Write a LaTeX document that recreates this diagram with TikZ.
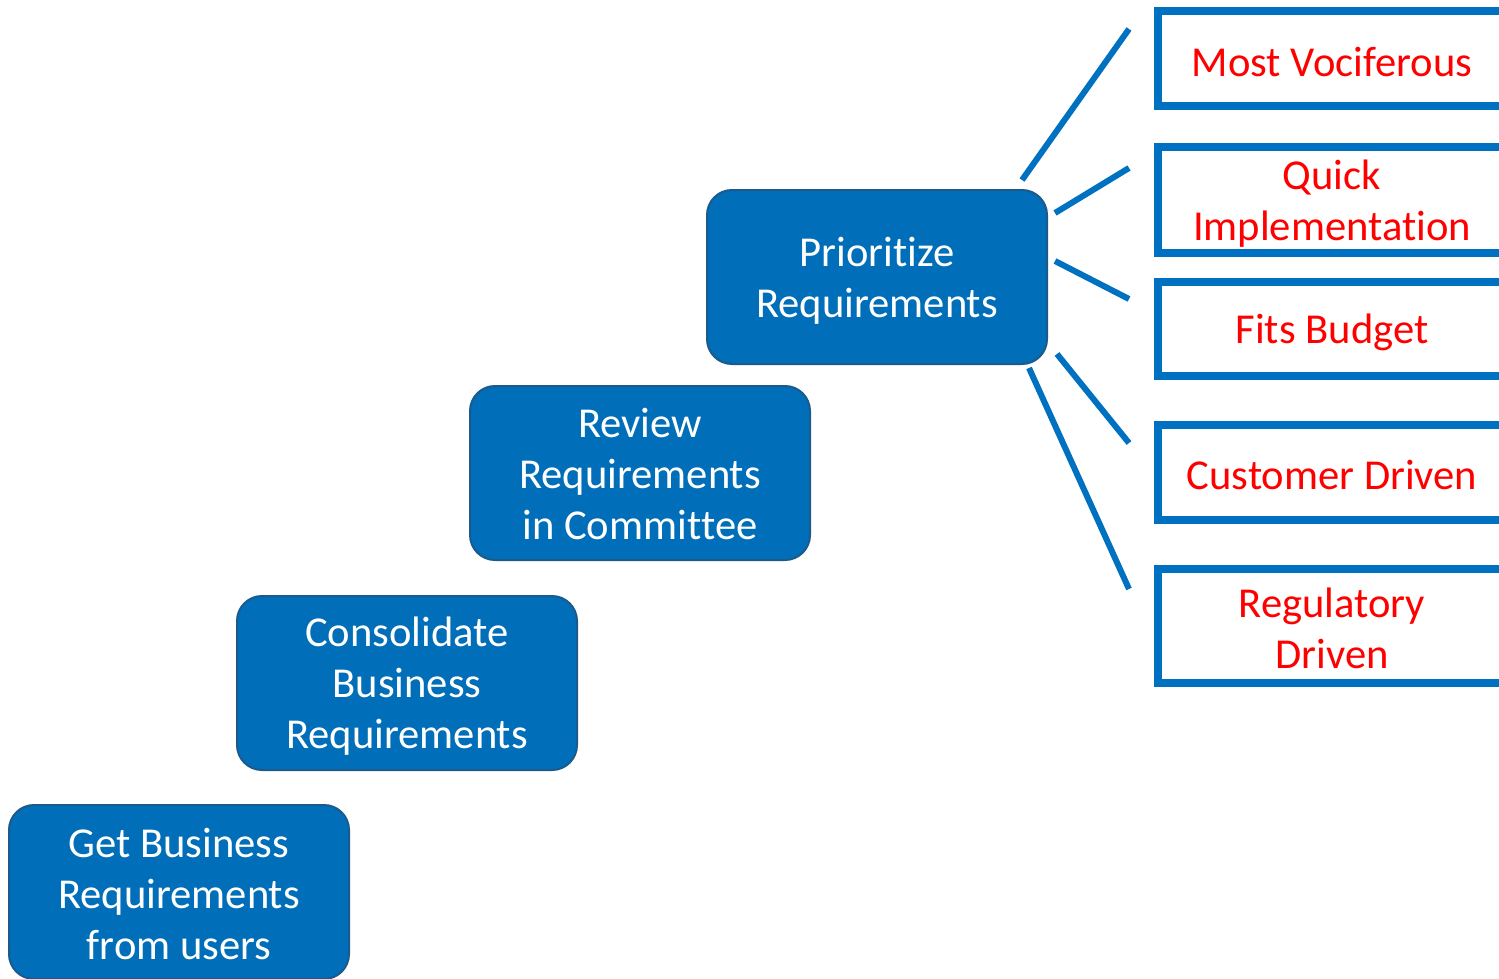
\documentclass[tikz,border=0pt]{standalone}
\usepackage{fontspec}
\setmainfont{Carlito}[Ligatures={NoCommon,NoContextual,NoRequired}]
\definecolor{boxblue}{HTML}{006EB8}
\definecolor{edgeblue}{HTML}{1B5A8C}
\definecolor{lineblue}{HTML}{0070C0}
\definecolor{redtxt}{HTML}{FF0000}
\begin{document}
\begin{tikzpicture}[x=0.5pt,y=-0.5pt,
  stepbox/.style={draw=edgeblue, line width=1pt, fill=boxblue, rounded corners=12.5pt,
    minimum width=170pt, minimum height=87pt, inner sep=0pt},
  steptxt/.style={align=center, text=white, font=\fontsize{21.3}{25.5}\selectfont, inner sep=0pt},
  critbox/.style={draw=lineblue, line width=4pt, minimum width=174pt, inner sep=0pt},
  crittxt/.style={align=center, text=redtxt, font=\fontsize{21.3}{25.5}\selectfont, inner sep=0pt},
  spoke/.style={draw=lineblue, line width=3pt}]
\useasboundingbox (0,0) rectangle (1499,979);
\clip (0,0) rectangle (1499,979);
\fill[white] (0,0) rectangle (1499,979);
% steps
\node[stepbox] (prio) at (877,277) {};
\node[stepbox] (rev) at (640,473) {};
\node[stepbox] (cons) at (407,683) {};
\node[stepbox] (get) at (179,892) {};
\node[steptxt] (priot) at ([yshift=-2pt]prio.center) {Priori\kern0pt tize\\Requirements};
\node[steptxt] (revt) at ([yshift=-0.7pt]rev.center) {Review\\Requirements\\in Commit\kern0pt tee};
\node[steptxt] (const) at ([yshift=-1.7pt]cons.center) {Consolidate\\Business\\Requirements};
\node[steptxt] (gett) at ([yshift=-1.2pt]get.center) {Get Business\\Requirements\\from users};
% criteria
\node[critbox, minimum height=47.5pt] (c1) at (1332,58.5) {};
\node[critbox, minimum height=53pt] (c2) at (1332,200) {};
\node[critbox, minimum height=47pt] (c3) at (1332,329) {};
\node[critbox, minimum height=47.5pt] (c4) at (1332,472.5) {};
\node[critbox, minimum height=57pt] (c5) at (1332,626) {};
\node[crittxt] (c1t) at ([yshift=-1.6pt]c1.center) {Most Vociferous};
\node[crittxt] (c2t) at ([yshift=-1.8pt]c2.center) {Quick\\Implementation};
\node[crittxt] (c3t) at ([yshift=-1.6pt]c3.center) {Fits Budget};
\node[crittxt] (c4t) at ([yshift=-1.4pt]c4.center) {Customer Driven};
\node[crittxt] (c5t) at ([yshift=-1.2pt]c5.center) {Regulatory\\Driven};
% spoke end points
\coordinate (s1a) at (1022,180); \coordinate (s1b) at (1129,29);
\coordinate (s2a) at (1055,213); \coordinate (s2b) at (1129,168);
\coordinate (s3a) at (1055,261); \coordinate (s3b) at (1129,299);
\coordinate (s4a) at (1057,354); \coordinate (s4b) at (1129,443);
\coordinate (s5a) at (1029,368); \coordinate (s5b) at (1129,589);
\draw[spoke] (s1a) -- (s1b);
\draw[spoke] (s2a) -- (s2b);
\draw[spoke] (s3a) -- (s3b);
\draw[spoke] (s4a) -- (s4b);
\draw[spoke] (s5a) -- (s5b);
\end{tikzpicture}
\end{document}
